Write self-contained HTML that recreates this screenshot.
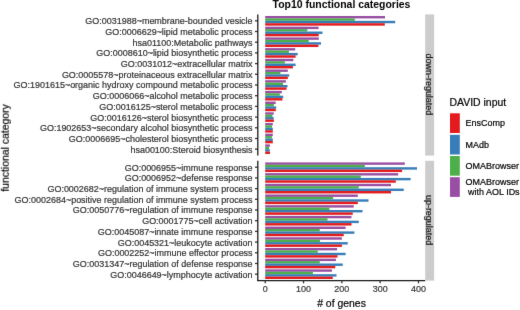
<!DOCTYPE html>
<html><head><meta charset="utf-8"><style>
html,body{margin:0;padding:0;background:#fff;width:520px;height:310px;overflow:hidden}
svg{display:block;will-change:transform}
text{font-family:"Liberation Sans",sans-serif;stroke-width:0.2px}
text[fill="#333333"]{stroke:#333333}
text[fill="#000"]{stroke:#000}
text[fill="#1A1A1A"]{stroke:#1A1A1A}

</style></head><body>
<svg width="520" height="310" viewBox="0 0 520 310">
<defs><filter id="soft" x="0" y="0" width="100%" height="100%" color-interpolation-filters="sRGB"><feConvolveMatrix order="3" kernelMatrix="0.00524 0.06192 0.00524 0.06192 0.73137 0.06192 0.00524 0.06192 0.00524" divisor="1" edgeMode="duplicate"/></filter></defs>
<g filter="url(#soft)">
<rect width="520" height="310" fill="#fff"/>
<rect x="265.20" y="16.00" width="119.80" height="2.41" fill="#984EA3"/>
<rect x="265.20" y="18.41" width="89.60" height="2.41" fill="#4DAF4A"/>
<rect x="265.20" y="20.82" width="130.00" height="2.41" fill="#377EB8"/>
<rect x="265.20" y="23.23" width="119.60" height="2.41" fill="#E41A1C"/>
<text x="252.6" y="24.27" text-anchor="end" font-size="8.97" fill="#333333">GO:0031988~membrane-bounded vesicle</text>
<line x1="255.0" x2="257.80" y1="20.82" y2="20.82" stroke="#333" stroke-width="1.3"/>
<rect x="265.20" y="26.70" width="53.40" height="2.41" fill="#984EA3"/>
<rect x="265.20" y="29.11" width="42.10" height="2.41" fill="#4DAF4A"/>
<rect x="265.20" y="31.52" width="57.30" height="2.41" fill="#377EB8"/>
<rect x="265.20" y="33.92" width="53.50" height="2.41" fill="#E41A1C"/>
<text x="252.6" y="34.97" text-anchor="end" font-size="8.97" fill="#333333">GO:0006629~lipid metabolic process</text>
<line x1="255.0" x2="257.80" y1="31.52" y2="31.52" stroke="#333" stroke-width="1.3"/>
<rect x="265.20" y="37.40" width="53.60" height="2.41" fill="#984EA3"/>
<rect x="265.20" y="39.81" width="43.55" height="2.41" fill="#4DAF4A"/>
<rect x="265.20" y="42.21" width="55.80" height="2.41" fill="#377EB8"/>
<rect x="265.20" y="44.62" width="53.20" height="2.41" fill="#E41A1C"/>
<text x="252.6" y="45.66" text-anchor="end" font-size="8.97" fill="#333333">hsa01100:Metabolic pathways</text>
<line x1="255.0" x2="257.80" y1="42.21" y2="42.21" stroke="#333" stroke-width="1.3"/>
<rect x="265.20" y="48.10" width="30.00" height="2.41" fill="#984EA3"/>
<rect x="265.20" y="50.50" width="23.70" height="2.41" fill="#4DAF4A"/>
<rect x="265.20" y="52.91" width="32.50" height="2.41" fill="#377EB8"/>
<rect x="265.20" y="55.32" width="30.40" height="2.41" fill="#E41A1C"/>
<text x="252.6" y="56.36" text-anchor="end" font-size="8.97" fill="#333333">GO:0008610~lipid biosynthetic process</text>
<line x1="255.0" x2="257.80" y1="52.91" y2="52.91" stroke="#333" stroke-width="1.3"/>
<rect x="265.20" y="58.79" width="28.10" height="2.41" fill="#984EA3"/>
<rect x="265.20" y="61.20" width="19.70" height="2.41" fill="#4DAF4A"/>
<rect x="265.20" y="63.61" width="30.40" height="2.41" fill="#377EB8"/>
<rect x="265.20" y="66.01" width="27.70" height="2.41" fill="#E41A1C"/>
<text x="252.6" y="67.06" text-anchor="end" font-size="8.97" fill="#333333">GO:0031012~extracellular matrix</text>
<line x1="255.0" x2="257.80" y1="63.61" y2="63.61" stroke="#333" stroke-width="1.3"/>
<rect x="265.20" y="69.49" width="22.60" height="2.41" fill="#984EA3"/>
<rect x="265.20" y="71.90" width="15.20" height="2.41" fill="#4DAF4A"/>
<rect x="265.20" y="74.30" width="24.00" height="2.41" fill="#377EB8"/>
<rect x="265.20" y="76.71" width="22.60" height="2.41" fill="#E41A1C"/>
<text x="252.6" y="77.75" text-anchor="end" font-size="8.97" fill="#333333">GO:0005578~proteinaceous extracellular matrix</text>
<line x1="255.0" x2="257.80" y1="74.30" y2="74.30" stroke="#333" stroke-width="1.3"/>
<rect x="265.20" y="80.19" width="20.70" height="2.41" fill="#984EA3"/>
<rect x="265.20" y="82.59" width="17.80" height="2.41" fill="#4DAF4A"/>
<rect x="265.20" y="85.00" width="22.30" height="2.41" fill="#377EB8"/>
<rect x="265.20" y="87.41" width="21.30" height="2.41" fill="#E41A1C"/>
<text x="252.6" y="88.45" text-anchor="end" font-size="8.97" fill="#333333">GO:1901615~organic hydroxy compound metabolic process</text>
<line x1="255.0" x2="257.80" y1="85.00" y2="85.00" stroke="#333" stroke-width="1.3"/>
<rect x="265.20" y="90.88" width="16.60" height="2.41" fill="#984EA3"/>
<rect x="265.20" y="93.29" width="14.60" height="2.41" fill="#4DAF4A"/>
<rect x="265.20" y="95.70" width="18.00" height="2.41" fill="#377EB8"/>
<rect x="265.20" y="98.10" width="17.20" height="2.41" fill="#E41A1C"/>
<text x="252.6" y="99.15" text-anchor="end" font-size="8.97" fill="#333333">GO:0006066~alcohol metabolic process</text>
<line x1="255.0" x2="257.80" y1="95.70" y2="95.70" stroke="#333" stroke-width="1.3"/>
<rect x="265.20" y="101.58" width="10.50" height="2.41" fill="#984EA3"/>
<rect x="265.20" y="103.99" width="8.70" height="2.41" fill="#4DAF4A"/>
<rect x="265.20" y="106.39" width="11.00" height="2.41" fill="#377EB8"/>
<rect x="265.20" y="108.80" width="10.60" height="2.41" fill="#E41A1C"/>
<text x="252.6" y="109.84" text-anchor="end" font-size="8.97" fill="#333333">GO:0016125~sterol metabolic process</text>
<line x1="255.0" x2="257.80" y1="106.39" y2="106.39" stroke="#333" stroke-width="1.3"/>
<rect x="265.20" y="112.28" width="8.50" height="2.41" fill="#984EA3"/>
<rect x="265.20" y="114.68" width="7.20" height="2.41" fill="#4DAF4A"/>
<rect x="265.20" y="117.09" width="8.50" height="2.41" fill="#377EB8"/>
<rect x="265.20" y="119.50" width="8.70" height="2.41" fill="#E41A1C"/>
<text x="252.6" y="120.54" text-anchor="end" font-size="8.97" fill="#333333">GO:0016126~sterol biosynthetic process</text>
<line x1="255.0" x2="257.80" y1="117.09" y2="117.09" stroke="#333" stroke-width="1.3"/>
<rect x="265.20" y="122.97" width="7.60" height="2.41" fill="#984EA3"/>
<rect x="265.20" y="125.38" width="6.80" height="2.41" fill="#4DAF4A"/>
<rect x="265.20" y="127.79" width="7.60" height="2.41" fill="#377EB8"/>
<rect x="265.20" y="130.20" width="7.60" height="2.41" fill="#E41A1C"/>
<text x="252.6" y="131.24" text-anchor="end" font-size="8.97" fill="#333333">GO:1902653~secondary alcohol biosynthetic process</text>
<line x1="255.0" x2="257.80" y1="127.79" y2="127.79" stroke="#333" stroke-width="1.3"/>
<rect x="265.20" y="133.67" width="7.60" height="2.41" fill="#984EA3"/>
<rect x="265.20" y="136.08" width="6.70" height="2.41" fill="#4DAF4A"/>
<rect x="265.20" y="138.49" width="7.60" height="2.41" fill="#377EB8"/>
<rect x="265.20" y="140.89" width="7.60" height="2.41" fill="#E41A1C"/>
<text x="252.6" y="141.94" text-anchor="end" font-size="8.97" fill="#333333">GO:0006695~cholesterol biosynthetic process</text>
<line x1="255.0" x2="257.80" y1="138.49" y2="138.49" stroke="#333" stroke-width="1.3"/>
<rect x="265.20" y="144.37" width="4.70" height="2.41" fill="#984EA3"/>
<rect x="265.20" y="146.78" width="3.80" height="2.41" fill="#4DAF4A"/>
<rect x="265.20" y="149.18" width="4.55" height="2.41" fill="#377EB8"/>
<rect x="265.20" y="151.59" width="4.80" height="2.41" fill="#E41A1C"/>
<text x="252.6" y="152.63" text-anchor="end" font-size="8.97" fill="#333333">hsa00100:Steroid biosynthesis</text>
<line x1="255.0" x2="257.80" y1="149.18" y2="149.18" stroke="#333" stroke-width="1.3"/>
<rect x="265.20" y="162.40" width="139.60" height="2.41" fill="#984EA3"/>
<rect x="265.20" y="164.81" width="99.60" height="2.41" fill="#4DAF4A"/>
<rect x="265.20" y="167.22" width="151.80" height="2.41" fill="#377EB8"/>
<rect x="265.20" y="169.63" width="136.90" height="2.41" fill="#E41A1C"/>
<text x="252.6" y="170.67" text-anchor="end" font-size="8.97" fill="#333333">GO:0006955~immune response</text>
<line x1="255.0" x2="257.80" y1="167.22" y2="167.22" stroke="#333" stroke-width="1.3"/>
<rect x="265.20" y="173.10" width="133.00" height="2.41" fill="#984EA3"/>
<rect x="265.20" y="175.51" width="95.60" height="2.41" fill="#4DAF4A"/>
<rect x="265.20" y="177.92" width="145.40" height="2.41" fill="#377EB8"/>
<rect x="265.20" y="180.32" width="130.60" height="2.41" fill="#E41A1C"/>
<text x="252.6" y="181.37" text-anchor="end" font-size="8.97" fill="#333333">GO:0006952~defense response</text>
<line x1="255.0" x2="257.80" y1="177.92" y2="177.92" stroke="#333" stroke-width="1.3"/>
<rect x="265.20" y="183.80" width="125.80" height="2.41" fill="#984EA3"/>
<rect x="265.20" y="186.21" width="93.55" height="2.41" fill="#4DAF4A"/>
<rect x="265.20" y="188.61" width="138.55" height="2.41" fill="#377EB8"/>
<rect x="265.20" y="191.02" width="125.80" height="2.41" fill="#E41A1C"/>
<text x="252.6" y="192.06" text-anchor="end" font-size="8.97" fill="#333333">GO:0002682~regulation of immune system process</text>
<line x1="255.0" x2="257.80" y1="188.61" y2="188.61" stroke="#333" stroke-width="1.3"/>
<rect x="265.20" y="194.50" width="92.60" height="2.41" fill="#984EA3"/>
<rect x="265.20" y="196.90" width="67.90" height="2.41" fill="#4DAF4A"/>
<rect x="265.20" y="199.31" width="103.30" height="2.41" fill="#377EB8"/>
<rect x="265.20" y="201.72" width="92.60" height="2.41" fill="#E41A1C"/>
<text x="252.6" y="202.76" text-anchor="end" font-size="8.97" fill="#333333">GO:0002684~positive regulation of immune system process</text>
<line x1="255.0" x2="257.80" y1="199.31" y2="199.31" stroke="#333" stroke-width="1.3"/>
<rect x="265.20" y="205.19" width="88.55" height="2.41" fill="#984EA3"/>
<rect x="265.20" y="207.60" width="64.20" height="2.41" fill="#4DAF4A"/>
<rect x="265.20" y="210.01" width="97.30" height="2.41" fill="#377EB8"/>
<rect x="265.20" y="212.41" width="87.55" height="2.41" fill="#E41A1C"/>
<text x="252.6" y="213.46" text-anchor="end" font-size="8.97" fill="#333333">GO:0050776~regulation of immune response</text>
<line x1="255.0" x2="257.80" y1="210.01" y2="210.01" stroke="#333" stroke-width="1.3"/>
<rect x="265.20" y="215.89" width="86.30" height="2.41" fill="#984EA3"/>
<rect x="265.20" y="218.30" width="62.30" height="2.41" fill="#4DAF4A"/>
<rect x="265.20" y="220.70" width="93.55" height="2.41" fill="#377EB8"/>
<rect x="265.20" y="223.11" width="86.30" height="2.41" fill="#E41A1C"/>
<text x="252.6" y="224.15" text-anchor="end" font-size="8.97" fill="#333333">GO:0001775~cell activation</text>
<line x1="255.0" x2="257.80" y1="220.70" y2="220.70" stroke="#333" stroke-width="1.3"/>
<rect x="265.20" y="226.59" width="80.40" height="2.41" fill="#984EA3"/>
<rect x="265.20" y="228.99" width="54.55" height="2.41" fill="#4DAF4A"/>
<rect x="265.20" y="231.40" width="89.20" height="2.41" fill="#377EB8"/>
<rect x="265.20" y="233.81" width="78.55" height="2.41" fill="#E41A1C"/>
<text x="252.6" y="234.85" text-anchor="end" font-size="8.97" fill="#333333">GO:0045087~innate immune response</text>
<line x1="255.0" x2="257.80" y1="231.40" y2="231.40" stroke="#333" stroke-width="1.3"/>
<rect x="265.20" y="237.28" width="76.70" height="2.41" fill="#984EA3"/>
<rect x="265.20" y="239.69" width="54.80" height="2.41" fill="#4DAF4A"/>
<rect x="265.20" y="242.10" width="82.55" height="2.41" fill="#377EB8"/>
<rect x="265.20" y="244.50" width="76.70" height="2.41" fill="#E41A1C"/>
<text x="252.6" y="245.55" text-anchor="end" font-size="8.97" fill="#333333">GO:0045321~leukocyte activation</text>
<line x1="255.0" x2="257.80" y1="242.10" y2="242.10" stroke="#333" stroke-width="1.3"/>
<rect x="265.20" y="247.98" width="71.90" height="2.41" fill="#984EA3"/>
<rect x="265.20" y="250.39" width="52.55" height="2.41" fill="#4DAF4A"/>
<rect x="265.20" y="252.79" width="80.40" height="2.41" fill="#377EB8"/>
<rect x="265.20" y="255.20" width="72.30" height="2.41" fill="#E41A1C"/>
<text x="252.6" y="256.24" text-anchor="end" font-size="8.97" fill="#333333">GO:0002252~immune effector process</text>
<line x1="255.0" x2="257.80" y1="252.79" y2="252.79" stroke="#333" stroke-width="1.3"/>
<rect x="265.20" y="258.68" width="70.70" height="2.41" fill="#984EA3"/>
<rect x="265.20" y="261.08" width="54.55" height="2.41" fill="#4DAF4A"/>
<rect x="265.20" y="263.49" width="77.55" height="2.41" fill="#377EB8"/>
<rect x="265.20" y="265.90" width="70.05" height="2.41" fill="#E41A1C"/>
<text x="252.6" y="266.94" text-anchor="end" font-size="8.97" fill="#333333">GO:0031347~regulation of defense response</text>
<line x1="255.0" x2="257.80" y1="263.49" y2="263.49" stroke="#333" stroke-width="1.3"/>
<rect x="265.20" y="269.37" width="66.70" height="2.41" fill="#984EA3"/>
<rect x="265.20" y="271.78" width="47.70" height="2.41" fill="#4DAF4A"/>
<rect x="265.20" y="274.19" width="71.30" height="2.41" fill="#377EB8"/>
<rect x="265.20" y="276.60" width="67.55" height="2.41" fill="#E41A1C"/>
<text x="252.6" y="277.64" text-anchor="end" font-size="8.97" fill="#333333">GO:0046649~lymphocyte activation</text>
<line x1="255.0" x2="257.80" y1="274.19" y2="274.19" stroke="#333" stroke-width="1.3"/>
<line x1="257.80" x2="257.80" y1="14.40" y2="155.60" stroke="#1A1A1A" stroke-width="1.3"/>
<line x1="257.80" x2="257.80" y1="160.80" y2="280.61" stroke="#1A1A1A" stroke-width="1.3"/>
<line x1="257.15" x2="425.20" y1="280.61" y2="280.61" stroke="#1A1A1A" stroke-width="1.3"/>
<line x1="265.20" x2="265.20" y1="280.61" y2="283.31" stroke="#333" stroke-width="1.3"/>
<text x="265.20" y="292.4" text-anchor="middle" font-size="8.97" fill="#333333">0</text>
<line x1="303.52" x2="303.52" y1="280.61" y2="283.31" stroke="#333" stroke-width="1.3"/>
<text x="303.52" y="292.4" text-anchor="middle" font-size="8.97" fill="#333333">100</text>
<line x1="341.85" x2="341.85" y1="280.61" y2="283.31" stroke="#333" stroke-width="1.3"/>
<text x="341.85" y="292.4" text-anchor="middle" font-size="8.97" fill="#333333">200</text>
<line x1="380.17" x2="380.17" y1="280.61" y2="283.31" stroke="#333" stroke-width="1.3"/>
<text x="380.17" y="292.4" text-anchor="middle" font-size="8.97" fill="#333333">300</text>
<line x1="418.50" x2="418.50" y1="280.61" y2="283.31" stroke="#333" stroke-width="1.3"/>
<text x="418.50" y="292.4" text-anchor="middle" font-size="8.97" fill="#333333">400</text>
<rect x="425.20" y="14.40" width="8.90" height="141.20" fill="#CCCCCC"/>
<rect x="425.20" y="160.80" width="8.90" height="119.81" fill="#CCCCCC"/>
<text transform="translate(425.80,84.40) rotate(90)" text-anchor="middle" font-size="8.97" fill="#1A1A1A">down-regulated</text>
<text transform="translate(425.80,220.10) rotate(90)" text-anchor="middle" font-size="8.97" fill="#1A1A1A">up-regulated</text>
<text x="341.50" y="7.5" text-anchor="middle" font-size="10.45" font-weight="bold" fill="#000" style="stroke:none">Top10 functional categories</text>
<text x="341.50" y="306.9" text-anchor="middle" font-size="10.45" fill="#000"># of genes</text>
<text transform="translate(8.8,147.90) rotate(-90)" text-anchor="middle" font-size="10.45" fill="#000">functional category</text>
<text x="449.5" y="106.0" font-size="10.45" fill="#000">DAVID input</text>
<rect x="450.0" y="113.30" width="9.8" height="19.7" fill="#E41A1C"/>
<text x="465.6" y="126.35" font-size="8.97" fill="#000">EnsComp</text>
<rect x="450.0" y="134.80" width="9.8" height="19.7" fill="#377EB8"/>
<text x="465.6" y="147.85" font-size="8.97" fill="#000">MAdb</text>
<rect x="450.0" y="156.00" width="9.8" height="19.7" fill="#4DAF4A"/>
<text x="465.6" y="169.05" font-size="8.97" fill="#000">OMABrowser</text>
<rect x="450.0" y="177.20" width="9.8" height="19.7" fill="#984EA3"/>
<text x="465.6" y="185.40" font-size="8.97" fill="#000">OMABrowser</text>
<text x="465.6" y="195.10" font-size="8.97" fill="#000"> with AOL IDs</text>
</g>
</svg>
</body></html>
